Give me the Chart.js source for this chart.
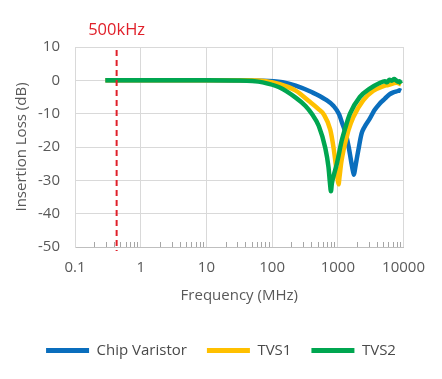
<!DOCTYPE html>
<html><head><meta charset="utf-8">
<script src="https://cdn.jsdelivr.net/npm/chart.js@4/dist/chart.umd.min.js"></script>
<style>html,body{margin:0;padding:0;background:#fff}#wrap{width:442px;height:379px}</style>
</head><body><div id="wrap"><canvas id="c" width="442" height="379"></canvas></div>
<script>
const seriesNames = ['Chip Varistor', 'TVS1', 'TVS2'];
const seriesColors = ['#0a6ebd', '#ffc000', '#00a650'];

const freqVaristor = [0.29, 1, 10, 40, 72, 144, 228, 406, 644, 861, 1047, 1148, 1300, 1462, 1600, 1700, 1758, 1830, 1930, 2047, 2296, 2546, 3061, 3600, 4325, 5200, 6109, 7000, 7600, 8185, 8700, 9165];
const lossVaristor = [0, 0, 0, -0.05, -0.1, -0.6, -1.6, -3.6, -5.7, -7.7, -10.2, -12.5, -15.5, -20, -24.5, -27.3, -28.3, -26.5, -23.8, -21, -16, -14, -11.5, -9, -7, -5.5, -4.2, -3.6, -3.4, -3.2, -3.0, -3.2];

const freqTVS1 = [0.29, 1, 10, 40, 80, 128, 228, 362, 513, 610, 766, 861, 940, 990, 1025, 1060, 1130, 1218, 1365, 1449, 1722, 2432, 3436, 4861, 5800, 6871, 7800, 8650, 9165];
const lossTVS1 = [0, 0, 0, 0, -0.3, -1.1, -3.1, -6.2, -8.7, -10.2, -14.8, -20.3, -26, -29.5, -31.2, -29, -24.5, -21, -17, -15, -11, -6, -3.2, -1.8, -1.4, -1, -0.7, -1, -1.2];

const freqTVS2 = [0.29, 1, 10, 30, 50, 72, 128, 228, 322, 406, 513, 644, 720, 760, 785, 810, 880, 966, 1148, 1288, 1531, 2163, 3061, 4325, 5200, 5600, 6109, 6600, 7200, 7700, 8185, 8700, 9165];
const lossTVS2 = [0, 0, 0, -0.05, -0.2, -0.6, -2.1, -5.2, -7.7, -10.2, -13.7, -20.3, -26, -31, -33.3, -31, -28, -25, -18, -14.5, -10, -5, -2.5, -0.8, -0.3, -0.6, 0.2, -0.1, 0.4, 0, -0.4, -0.3, -1];

const xTickLabels = ['0.1', '1', '10', '100', '1000', '10000'];
const yTickValues = [10, 0, -10, -20, -30, -40, -50];
const markerFreq = 0.43;
const markerLabel = '500kHz';
const markerColor = '#e0202a';

const FONT = '"Open Sans", sans-serif';
const TEXT = '#595959';

function pts(fx, fy) { return fx.map((f, i) => ({ x: f, y: fy[i] })); }
const isMajor = v => Math.abs(Math.log10(v) - Math.round(Math.log10(v))) < 1e-6;

const markerPlugin = {
  id: 'marker',
  afterDatasetsDraw(chart) {
    const { ctx, chartArea } = chart;
    const x = chart.scales.x.getPixelForValue(markerFreq);
    ctx.save();
    ctx.strokeStyle = markerColor;
    ctx.lineWidth = 2;
    ctx.setLineDash([6, 4]);
    ctx.beginPath();
    ctx.moveTo(x, chartArea.top + 3);
    ctx.lineTo(x, chartArea.bottom + 4);
    ctx.stroke();
    ctx.setLineDash([]);
    ctx.font = '16.5px ' + FONT;
    ctx.fillStyle = markerColor;
    ctx.textAlign = 'center';
    ctx.textBaseline = 'middle';
    ctx.fillText(markerLabel, x, 30);
    ctx.restore();
  }
};

const legendCenterPlugin = {
  id: 'legendCenter',
  afterLayout(chart) {
    const l = chart.legend;
    if (l) { l.left = 0; l.right = chart.width; l.width = chart.width; }
  }
};

const datasets = [
  { label: seriesNames[0], data: pts(freqVaristor, lossVaristor), order: 3 },
  { label: seriesNames[1], data: pts(freqTVS1, lossTVS1), order: 2 },
  { label: seriesNames[2], data: pts(freqTVS2, lossTVS2), order: 1 }
].map((d, i) => Object.assign(d, {
  borderColor: seriesColors[i], backgroundColor: seriesColors[i],
  borderWidth: 4.5, pointRadius: 0, cubicInterpolationMode: 'monotone', fill: false
}));

new Chart(document.getElementById('c'), {
  type: 'line',
  data: { datasets },
  plugins: [markerPlugin, legendCenterPlugin],
  options: {
    responsive: false,
    animation: false,
    layout: { padding: { left: 0, right: 35, top: 47, bottom: 11 } },
    plugins: {
      tooltip: { enabled: false },
      legend: {
        position: 'bottom',
        labels: {
          boxWidth: 43, boxHeight: 5, padding: 20, color: '#4a4a4a',
          font: { family: FONT, size: 15 },
          sort: (a, b) => a.datasetIndex - b.datasetIndex,
          generateLabels(chart) {
            return Chart.defaults.plugins.legend.labels.generateLabels(chart)
              .map(l => Object.assign(l, { fillStyle: l.strokeStyle, lineWidth: 0 }));
          }
        }
      }
    },
    scales: {
      x: {
        type: 'logarithmic', min: 0.1, max: 10000,
        afterBuildTicks(scale) {
          const t = [];
          for (let e = -1; e <= 4; e++) {
            for (let m = 1; m <= 9; m++) {
              const v = m * Math.pow(10, e);
              if (v <= 10000 + 1e-9) t.push({ value: parseFloat(v.toPrecision(6)) });
            }
          }
          scale.ticks = t;
        },
        afterFit(scale) { scale.height = 76; },
        ticks: {
          autoSkip: false, maxRotation: 0, padding: 17, color: TEXT,
          font: { family: FONT, size: 15 },
          callback: v => isMajor(v) ? xTickLabels[Math.round(Math.log10(v)) + 1] : ''
        },
        grid: {
          color: c => (c.tick && isMajor(c.tick.value)) ? '#d9d9d9' : 'rgba(0,0,0,0)',
          tickColor: c => (c.tick && !isMajor(c.tick.value)) ? '#a6a6a6' : 'rgba(0,0,0,0)',
          tickLength: -5, lineWidth: 1
        },
        border: { color: '#bfbfbf' },
        title: {
          display: true, text: 'Frequency (MHz)', color: TEXT,
          font: { family: FONT, size: 15 }, padding: { top: 18, bottom: 18 }
        }
      },
      y: {
        min: -50, max: 10,
        afterBuildTicks(scale) { scale.ticks = yTickValues.map(v => ({ value: v })); },
        afterFit(scale) { scale.width = 75; },
        ticks: { padding: 15, color: TEXT, font: { family: FONT, size: 15 } },
        grid: { color: '#d9d9d9', drawTicks: false },
        border: { color: '#d9d9d9' },
        title: {
          display: true, text: 'Insertion Loss (dB)', color: TEXT,
          font: { family: FONT, size: 15 }, padding: { top: 13, bottom: 13 }
        }
      }
    }
  }
});
</script></body></html>
